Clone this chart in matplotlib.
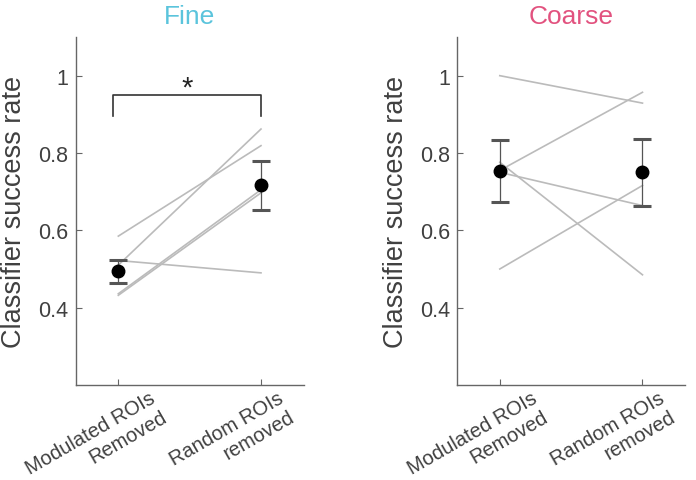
import matplotlib
matplotlib.use("Agg")
import matplotlib.pyplot as plt
from matplotlib.transforms import ScaledTranslation

# ---------------------- DATA ----------------------
conditions = ["Modulated ROIs\nRemoved", "Random ROIs\nremoved"]
x_pos = [1, 2]

# individual sessions (Fine)
fine_modulated = [0.585, 0.510, 0.522, 0.432, 0.436]
fine_random = [0.819, 0.862, 0.490, 0.697, 0.705]
fine_mean = [0.494, 0.716]
fine_err = [0.029, 0.064]

# individual sessions (Coarse)
coarse_modulated = [1.000, 0.755, 0.776, 0.750, 0.500]
coarse_random = [0.929, 0.957, 0.485, 0.664, 0.716]
coarse_mean = [0.754, 0.750]
coarse_err = [0.080, 0.087]

yticks = [0.4, 0.6, 0.8, 1.0]
ytick_labels = ["0.4", "0.6", "0.8", "1"]
# --------------------------------------------------

plt.rcParams["font.family"] = ["Liberation Sans", "DejaVu Sans"]

AXIS_COL = "#666666"
TEXT_COL = "#404040"
LINE_COL = "#BBBBBB"

fig = plt.figure(figsize=(6.96, 4.81), dpi=100)
ax_fine = fig.add_axes([0.1085, 0.1975, 0.328, 0.7235])
ax_coarse = fig.add_axes([0.6566, 0.1975, 0.328, 0.7235])


def draw_panel(ax, first, second, mean, err, title, title_col):
    for a, b in zip(first, second):
        ax.plot(x_pos, [a, b], color=LINE_COL, lw=1.2, zorder=1)
    _, caps, bars = ax.errorbar(x_pos, mean, yerr=err, fmt="o", color="black",
                                ms=9, ecolor="#555555", elinewidth=0.9,
                                capsize=6.5, capthick=2.2, zorder=3)
    for c in caps:
        c.set_color("black")

    ax.set_xlim(0.7, 2.3)
    ax.set_ylim(0.2, 1.1)
    ax.set_yticks(yticks)
    ax.set_yticklabels(ytick_labels)
    ax.set_xticks(x_pos)
    ax.set_xticklabels([])

    # rotated category labels, placed by hand (one text per line,
    # right-aligned, stepping down along the rotated direction)
    shifts = [0.31, 0.16]
    step = 0.22  # line spacing, inches
    for xp, name, dx in zip(x_pos, conditions, shifts):
        for i, line in enumerate(name.split("\n")):
            off = ScaledTranslation(dx + i * 0.5 * step,
                                    -0.03 - i * 0.866 * step,
                                    fig.dpi_scale_trans)
            ax.text(xp, 0, line, transform=ax.get_xaxis_transform() + off,
                    rotation=30, ha="right", va="top",
                    rotation_mode="anchor", fontsize=14.5, color=TEXT_COL)

    for side in ["top", "right"]:
        ax.spines[side].set_visible(False)
    for side in ["left", "bottom"]:
        ax.spines[side].set_color(AXIS_COL)
        ax.spines[side].set_linewidth(1.0)
    ax.tick_params(axis="y", direction="in", length=4, color=AXIS_COL,
                   labelcolor=TEXT_COL, labelsize=15.5, pad=5)
    ax.tick_params(axis="x", direction="in", length=4, color=AXIS_COL)
    ax.set_ylabel("Classifier success rate", fontsize=19.5, color=TEXT_COL,
                  labelpad=8)
    ax.set_title(title, fontsize=19, color=title_col, pad=10)


draw_panel(ax_fine, fine_modulated, fine_random, fine_mean, fine_err,
           "Fine", "#5BC4DC")
draw_panel(ax_coarse, coarse_modulated, coarse_random, coarse_mean,
           coarse_err, "Coarse", "#E2527F")

# significance bracket
ax_fine.plot([0.962, 0.962, 2.0, 2.0], [0.895, 0.95, 0.95, 0.895],
             color="#333333", lw=1.2, zorder=2)
ax_fine.text(1.48, 0.97, "*", ha="center", va="center", fontsize=21,
             color="#222222")

fig.savefig("out.png", dpi=100)
